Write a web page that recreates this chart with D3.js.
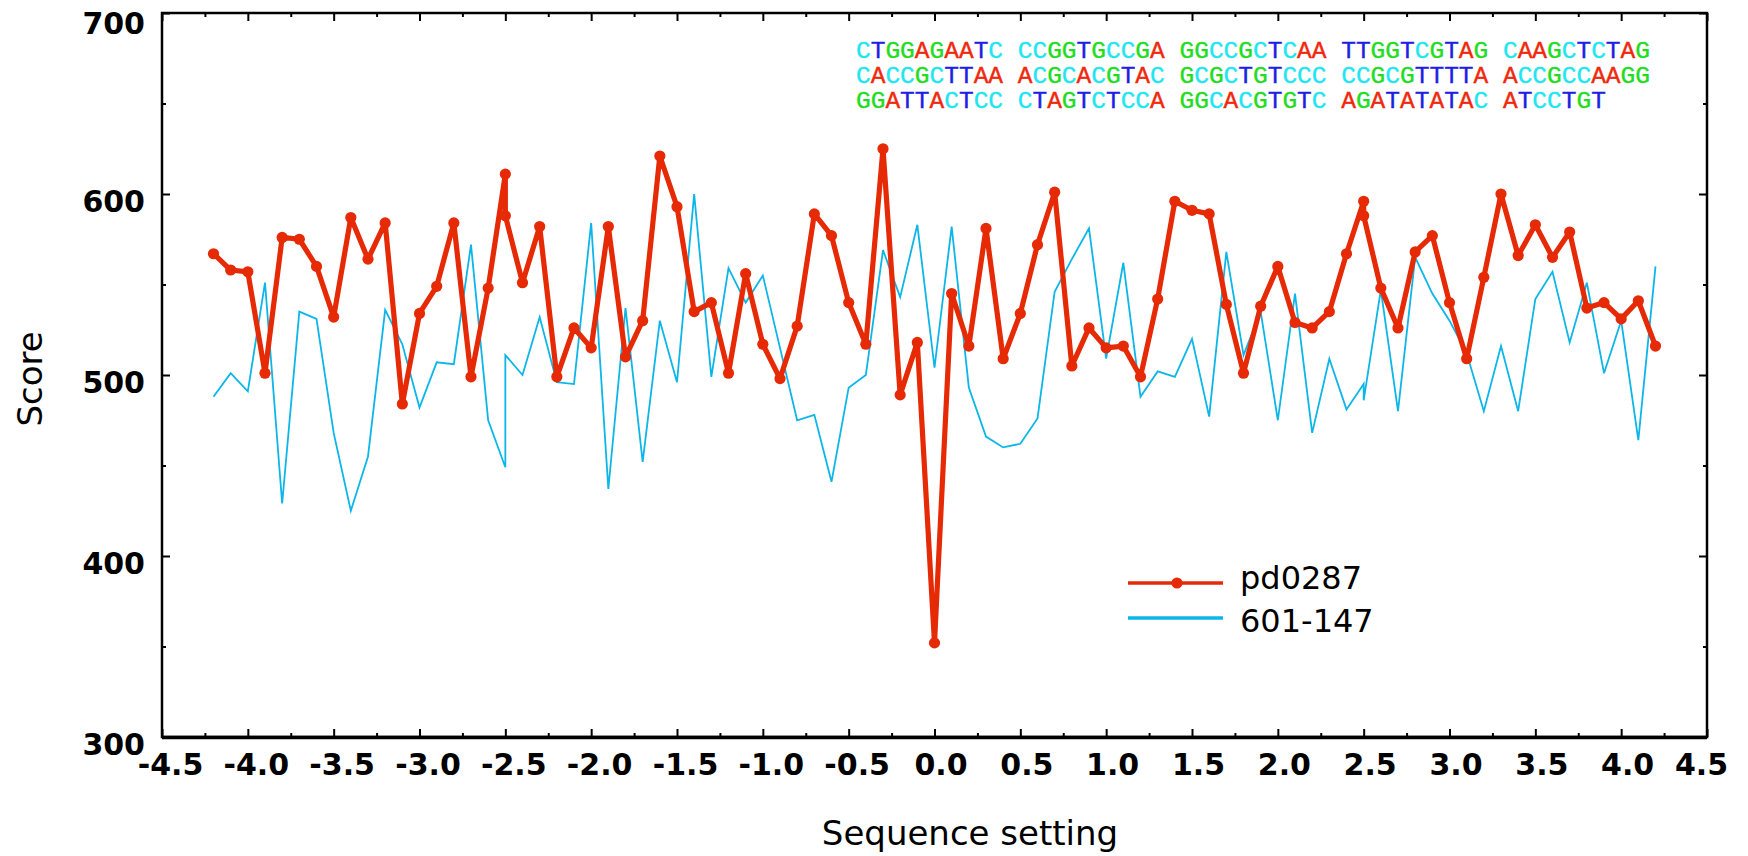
<!DOCTYPE html>
<html>
<head>
<meta charset="utf-8">
<script src="https://cdn.jsdelivr.net/npm/d3@7"></script>
<style>
  html, body { margin: 0; background: #ffffff; }
  svg { display: block; }
</style>
</head>
<body>
<svg id="chart" width="1748" height="856"></svg>
<script>
// Sequence settings (x); -2.5 and 2.5 each carry two readings
const positions = [-4.2,-4.1,-4.0,-3.9,-3.8,-3.7,-3.6,-3.5,-3.4,-3.3,-3.2,-3.1,-3.0,-2.9,-2.8,-2.7,-2.6,
  -2.5,-2.5,
  -2.4,-2.3,-2.2,-2.1,-2.0,-1.9,-1.8,-1.7,-1.6,-1.5,-1.4,-1.3,-1.2,-1.1,-1.0,-0.9,-0.8,-0.7,-0.6,-0.5,
  -0.4,-0.3,-0.2,-0.1,0.0,0.1,0.2,0.3,0.4,0.5,0.6,0.7,0.8,0.9,1.0,1.1,1.2,1.3,1.4,1.5,1.6,1.7,1.8,1.9,
  2.0,2.1,2.2,2.3,2.4,
  2.5,2.5,
  2.6,2.7,2.8,2.9,3.0,3.1,3.2,3.3,3.4,3.5,3.6,3.7,3.8,3.9,4.0,4.1,4.2];

// Scores for sequence pd0287
const pd0287 = [567,558,557,501,576,575,560,532,587,564,584,484,534,549,584,499,548,
  611,588,
  551,582,499,526,515,582,510,530,621,593,535,540,501,556,517,498,527,589,577,540,
  517,625,489,518,352,545,516,581,509,534,572,601,505,526,515,516,499,542,596,591,589,539,501,538,
  560,529,526,535,567,
  596,588,
  548,526,568,577,540,509,554,600,566,583,565,579,537,540,531,541,516];

// Scores for sequence 601-147
const s601_147 = [488,501,491,551,429,535,531,468,425,455,536,517,482,507,506,572,475,
  449,511,
  500,532,496,495,584,437,537,452,530,496,600,499,559,540,555,515,475,478,441,493,
  500,569,543,583,504,582,493,466,460,462,476,546,564,581,509,562,488,502,499,520,477,568,511,535,
  475,545,468,509,481,
  495,486,
  547,480,565,545,530,512,480,516,480,542,557,518,551,501,530,464,560];

const seriesNames = ["pd0287", "601-147"];

// Axis ticks
const xMajorTicks = [-4.5,-4.0,-3.5,-3.0,-2.5,-2.0,-1.5,-1.0,-0.5,0.0,0.5,1.0,1.5,2.0,2.5,3.0,3.5,4.0,4.5];
const xMinorTicks = [-4.25,-3.75,-3.25,-2.75,-2.25,-1.75,-1.25,-0.75,-0.25,0.25,0.75,1.25,1.75,2.25,2.75,3.25,3.75,4.25];
const yMajorTicks = [300,400,500,600,700];
const yMinorTicks = [350,450,550,650];

// Sequence printed in the upper right, coloured by base
const seqLines = [
  "CTGGAGAATC CCGGTGCCGA GGCCGCTCAA TTGGTCGTAG CAAGCTCTAG",
  "CACCGCTTAA ACGCACGTAC GCGCTGTCCC CCGCGTTTTA ACCGCCAAGG",
  "GGATTACTCC CTAGTCTCCA GGCACGTGTC AGATATATAC ATCCTGT"
];
const baseColor = { A: "#f0280c", C: "#20e6f2", G: "#22dc22", T: "#1e1ee4", " ": "#000" };

const RED = "#e62a06";
const BLUE = "#0db6e8";

const svg = d3.select("#chart");
const plotLeft = 162, plotRight = 1707, plotTop = 13, plotBottom = 737;

const x = d3.scaleLinear().domain([-4.5, 4.5]).range([plotLeft, plotRight]);
const y = d3.scaleLinear().domain([300, 700]).range([plotBottom, plotTop]);

const tickFont = "'DejaVu Sans', Verdana, sans-serif";

function styleAxis(g) {
  g.select(".domain").remove();
  g.selectAll(".tick line").attr("stroke", "#000").attr("stroke-width", 2);
}

// Bottom axis: major ticks with labels, minor ticks
const gxB = svg.append("g")
  .attr("transform", `translate(0,${plotBottom})`)
  .call(d3.axisBottom(x).tickValues(xMajorTicks).tickSize(-8).tickSizeOuter(0)
    .tickPadding(17).tickFormat(d => d.toFixed(1)))
  .call(styleAxis);
gxB.selectAll(".tick text")
  .attr("font-family", tickFont)
  .attr("font-weight", "bold")
  .attr("font-size", 30)
  .attr("fill", "#000")
  .attr("dx", d => d < 0 ? 8 : (d === 4.5 ? -6 : 6));

svg.append("g")
  .attr("transform", `translate(0,${plotBottom})`)
  .call(d3.axisBottom(x).tickValues(xMinorTicks).tickSize(-4).tickSizeOuter(0).tickFormat(""))
  .call(styleAxis);

// Top axis (ticks only)
svg.append("g")
  .attr("transform", `translate(0,${plotTop})`)
  .call(d3.axisTop(x).tickValues(xMajorTicks).tickSize(-8).tickSizeOuter(0).tickFormat(""))
  .call(styleAxis);
svg.append("g")
  .attr("transform", `translate(0,${plotTop})`)
  .call(d3.axisTop(x).tickValues(xMinorTicks).tickSize(-4).tickSizeOuter(0).tickFormat(""))
  .call(styleAxis);

// Left axis with labels
const gyL = svg.append("g")
  .attr("transform", `translate(${plotLeft},0)`)
  .call(d3.axisLeft(y).tickValues(yMajorTicks).tickSize(-8).tickSizeOuter(0)
    .tickPadding(17).tickFormat(d3.format("d")))
  .call(styleAxis);
gyL.selectAll(".tick text")
  .attr("font-family", tickFont)
  .attr("font-weight", "bold")
  .attr("font-size", 30)
  .attr("fill", "#000")
  .attr("y", d => d === 700 ? 11 : 8);

svg.append("g")
  .attr("transform", `translate(${plotLeft},0)`)
  .call(d3.axisLeft(y).tickValues(yMinorTicks).tickSize(-4).tickSizeOuter(0).tickFormat(""))
  .call(styleAxis);

// Right axis (ticks only)
svg.append("g")
  .attr("transform", `translate(${plotRight},0)`)
  .call(d3.axisRight(y).tickValues(yMajorTicks).tickSize(-8).tickSizeOuter(0).tickFormat(""))
  .call(styleAxis);
svg.append("g")
  .attr("transform", `translate(${plotRight},0)`)
  .call(d3.axisRight(y).tickValues(yMinorTicks).tickSize(-4).tickSizeOuter(0).tickFormat(""))
  .call(styleAxis);

// Plot frame
svg.append("rect")
  .attr("x", plotLeft).attr("y", plotTop)
  .attr("width", plotRight - plotLeft).attr("height", plotBottom - plotTop)
  .attr("fill", "none").attr("stroke", "#000").attr("stroke-width", 2.5);
svg.append("line")
  .attr("x1", plotLeft).attr("x2", plotRight).attr("y1", plotBottom + 0.5).attr("y2", plotBottom + 0.5)
  .attr("stroke", "#000").attr("stroke-width", 3.5);

// Series lines
const lineGen = d3.line()
  .x(d => x(d.x))
  .y(d => y(d.v));

const blueData = positions.map((p, i) => ({ x: p, v: s601_147[i] }));
const redData = positions.map((p, i) => ({ x: p, v: pd0287[i] }));

svg.append("path")
  .datum(blueData)
  .attr("d", lineGen)
  .attr("fill", "none")
  .attr("stroke", BLUE)
  .attr("stroke-width", 1.8)
  .attr("stroke-linejoin", "miter");

svg.append("path")
  .datum(redData)
  .attr("d", lineGen)
  .attr("fill", "none")
  .attr("stroke", RED)
  .attr("stroke-width", 5.2)
  .attr("stroke-linejoin", "round");

svg.append("g")
  .selectAll("circle")
  .data(redData)
  .join("circle")
  .attr("cx", d => x(d.x))
  .attr("cy", d => y(d.v))
  .attr("r", 5.6)
  .attr("fill", RED);

// Legend
const legend = svg.append("g");
legend.append("line")
  .attr("x1", 1128).attr("x2", 1223).attr("y1", 583).attr("y2", 583)
  .attr("stroke", RED).attr("stroke-width", 3.5);
legend.append("circle")
  .attr("cx", 1177).attr("cy", 583).attr("r", 5.6).attr("fill", RED);
legend.append("line")
  .attr("x1", 1128).attr("x2", 1223).attr("y1", 618).attr("y2", 618)
  .attr("stroke", BLUE).attr("stroke-width", 3.5);
legend.selectAll("text")
  .data(seriesNames)
  .join("text")
  .attr("x", 1240)
  .attr("y", (d, i) => i === 0 ? 589 : 632)
  .attr("font-family", tickFont)
  .attr("font-size", 32)
  .attr("fill", "#000")
  .text(d => d);

// Sequence text block
const seq = svg.append("g")
  .attr("font-family", "'Liberation Mono', 'DejaVu Sans Mono', monospace")
  .attr("font-size", 24.5);
seqLines.forEach((line, li) => {
  const t = seq.append("text")
    .attr("x", 856)
    .attr("y", 58 + li * 25)
    .attr("xml:space", "preserve")
    .style("white-space", "pre");
  t.selectAll("tspan")
    .data(line.split(""))
    .join("tspan")
    .attr("fill", c => baseColor[c])
    .attr("stroke", c => baseColor[c])
    .attr("stroke-width", 0.4)
    .text(c => c);
});

// Axis titles
svg.append("text")
  .attr("x", 970).attr("y", 845)
  .attr("text-anchor", "middle")
  .attr("font-family", tickFont)
  .attr("font-size", 34)
  .attr("fill", "#000")
  .text("Sequence setting");

svg.append("text")
  .attr("transform", "translate(42,379) rotate(-90)")
  .attr("text-anchor", "middle")
  .attr("font-family", tickFont)
  .attr("font-size", 34)
  .attr("fill", "#000")
  .text("Score");
</script>
</body>
</html>
